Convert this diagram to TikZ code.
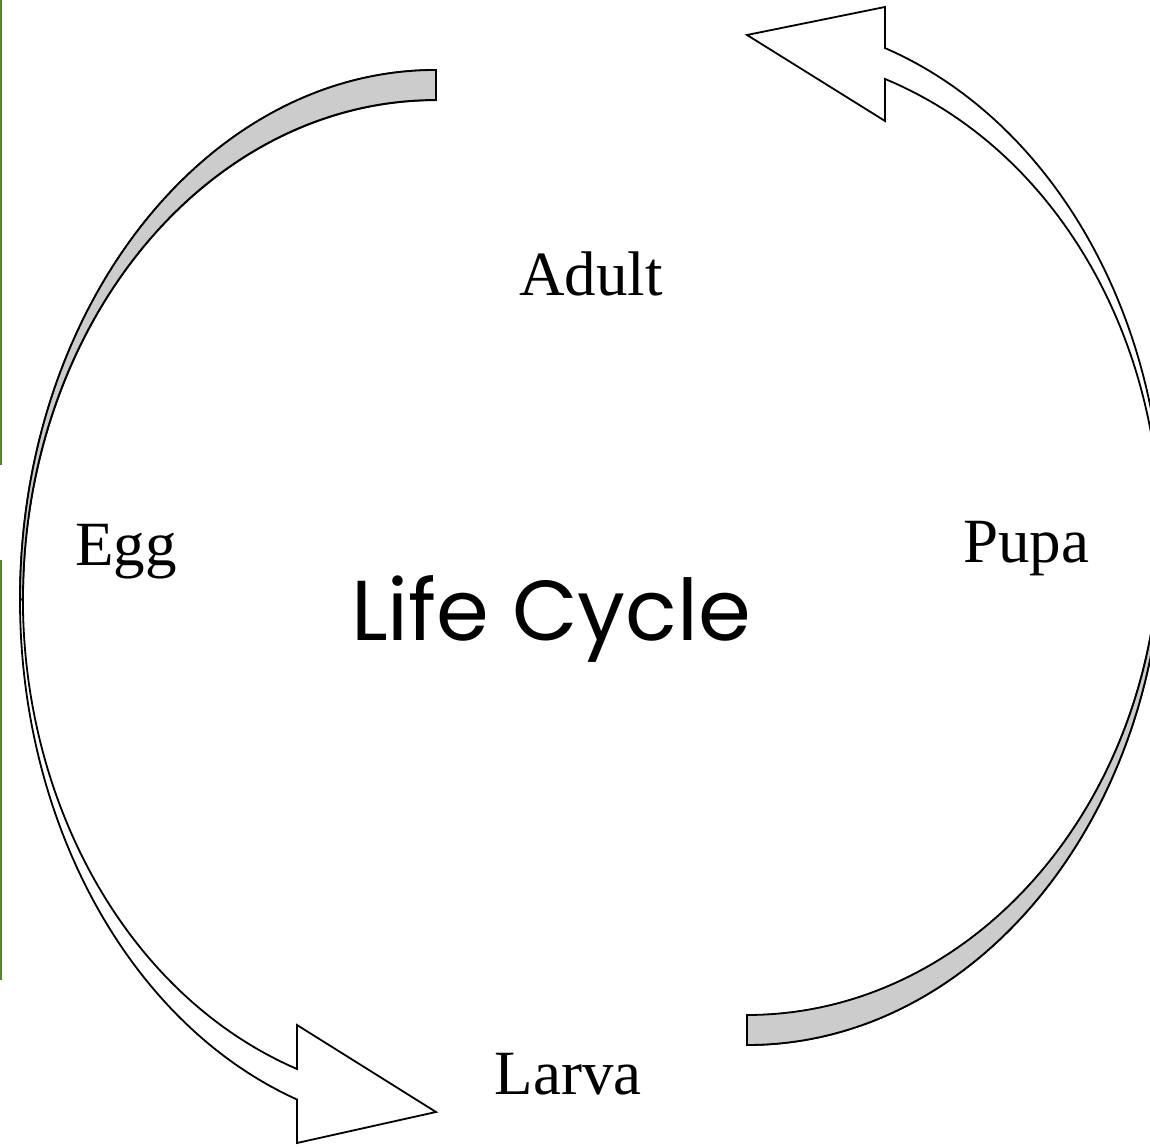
\documentclass[tikz,border=0pt]{standalone}
\usepackage{fontspec}
\setmainfont{Liberation Serif}
\newfontfamily\titlefont{Poppins}
\usepackage{tikz}
\usetikzlibrary{positioning}
\definecolor{BandGray}{HTML}{CCCCCC}
\definecolor{EdgeGreen}{HTML}{4F8A1E}

\begin{document}
\begin{tikzpicture}[x=1pt, y=1pt,
  band/.style={draw=black, line width=1.8pt, line join=miter},
  frontside/.style={band, fill=white},
  backside/.style={band, fill=BandGray},
  stage/.style={font=\fontsize{63}{63}\selectfont, anchor=base},
  title/.style={font=\titlefont\fontsize{85}{85}\selectfont, anchor=base}
]
  \useasboundingbox (0,0) rectangle (1150,1147);
  \clip (0,0) rectangle (1150,1147);

  % green strip on the left edge
  \draw[EdgeGreen, line width=2pt] (1,1147) -- (1,682) (1,587) -- (1,167);

  % left arrow, adult -> egg -> larva
  \draw[frontside] (436,1077) arc[start angle=90, end angle=250.49, x radius=416, y radius=530]
    -- (297,4) -- (436,35) -- (297,122) -- (297,78)
    arc[start angle=250.33, end angle=90, x radius=413, y radius=499] -- cycle;
  \draw[backside] (436,1077) arc[start angle=90, end angle=180, x radius=416, y radius=530]
    -- (23,548) arc[start angle=180, end angle=90, x radius=413, y radius=499] -- cycle;

  % right arrow, larva -> pupa -> adult
  \draw[frontside] (747,102) arc[start angle=270, end angle=430.63, x radius=416, y radius=513]
    -- (885,1140) -- (747,1112) -- (885,1026) -- (885,1068)
    arc[start angle=70.48, end angle=-90, x radius=413, y radius=482] -- cycle;
  \draw[backside] (747,102) arc[start angle=270, end angle=360, x radius=416, y radius=513]
    -- (1160,614) arc[start angle=0, end angle=-90, x radius=413, y radius=482] -- cycle;

  % stages
  \node[stage] (adult) at (591,851) {Adult};
  \node[stage] (egg) at (126,581) {Egg};
  \node[stage] (pupa) at (1026,584) {Pupa};
  \node[stage] (larva) at (568,52) {Larva};
  \node[title] (cycle) at (551,506) {Life Cycle};
\end{tikzpicture}
\end{document}
